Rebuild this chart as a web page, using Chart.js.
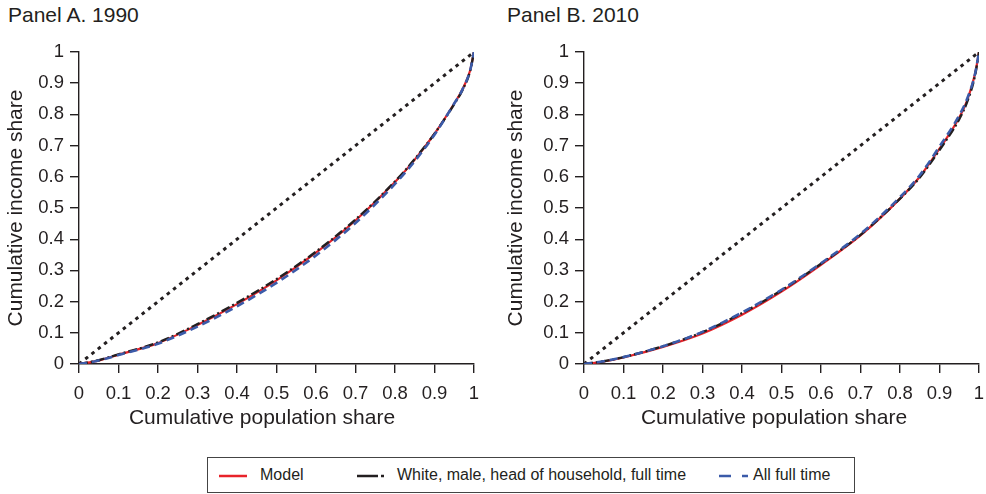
<!DOCTYPE html>
<html lang="en">
<head>
    <meta charset="UTF-8">
    <title>Lorenz curves 1990 and 2010</title>
    <script src="https://cdn.jsdelivr.net/npm/chart.js"></script>
    <style>
        body {
            margin: 0;
            background: #ffffff;
            font-family: "Liberation Sans", Arial, Helvetica, sans-serif;
            color: #231f20;
        }

        .page {
            position: relative;
            width: 986px;
            height: 494px;
            overflow: hidden;
        }

        .panel {
            position: absolute;
            top: 0;
            height: 440px;
        }

        .panel-title {
            position: absolute;
            top: 2px;
            font-size: 21px;
            line-height: 25px;
        }

        .x-title {
            position: absolute;
            top: 404px;
            width: 400px;
            text-align: center;
            font-size: 21px;
            line-height: 26px;
        }

        .legend {
            position: absolute;
            left: 207px;
            top: 457px;
            width: 646px;
            height: 34px;
            border: 1.5px solid #444;
            font-size: 16px;
        }

        .legend svg, .legend span {
            position: absolute;
        }

        .legend span {
            top: 7px;
            line-height: 20px;
        }
    </style>
</head>
<body>
<div class="page">
    <div class="panel-title" style="left: 8px;">Panel A. 1990</div>
    <div class="panel-title" style="left: 507px;">Panel B. 2010</div>

    <div class="panel" style="left: 0; width: 493px;"><canvas id="panelA"></canvas></div>
    <div class="panel" style="left: 500px; width: 486px;"><canvas id="panelB"></canvas></div>

    <div class="x-title" style="left: 62px;">Cumulative population share</div>
    <div class="x-title" style="left: 574px;">Cumulative population share</div>

    <div class="legend">
        <svg style="left: 10px; top: 15px;" width="30" height="6">
            <line x1="1" y1="3" x2="29" y2="3" stroke="#e8232a" stroke-width="2.5"/>
        </svg>
        <span style="left: 52px;">Model</span>
        <svg style="left: 148px; top: 15px;" width="30" height="6">
            <line x1="1" y1="3" x2="22" y2="3" stroke="#231f20" stroke-width="2.5"/>
            <line x1="25" y1="3" x2="28" y2="3" stroke="#231f20" stroke-width="2.5"/>
        </svg>
        <span style="left: 189px;">White, male, head of household, full time</span>
        <svg style="left: 510px; top: 15px;" width="32" height="6">
            <line x1="1" y1="3" x2="13" y2="3" stroke="#3b5ba9" stroke-width="2.5"/>
            <line x1="24" y1="3" x2="30" y2="3" stroke="#3b5ba9" stroke-width="2.5"/>
        </svg>
        <span style="left: 545px;">All full time</span>
    </div>
</div>

<script>
    // cumulative population share (x) shared by all curves
    const popShare = [0, 0.05, 0.1, 0.2, 0.3, 0.4, 0.5, 0.6, 0.7, 0.8, 0.85, 0.9, 0.95, 0.97, 0.99, 1];

    // Panel A. 1990 - cumulative income share
    const model1990 = [0, 0.011, 0.030, 0.067, 0.125, 0.192, 0.268, 0.357, 0.460, 0.583, 0.655, 0.738, 0.835, 0.878, 0.940, 1];
    const white1990 = [0, 0.012, 0.031, 0.069, 0.128, 0.196, 0.272, 0.360, 0.463, 0.585, 0.657, 0.738, 0.833, 0.876, 0.938, 1];
    const allFull1990 = [0, 0.011, 0.029, 0.065, 0.120, 0.185, 0.260, 0.348, 0.452, 0.577, 0.650, 0.735, 0.835, 0.878, 0.940, 1];

    // Panel B. 2010 - cumulative income share
    const model2010 = [0, 0.008, 0.021, 0.055, 0.098, 0.158, 0.232, 0.318, 0.412, 0.530, 0.600, 0.690, 0.790, 0.845, 0.930, 1];
    const white2010 = [0, 0.009, 0.022, 0.057, 0.102, 0.163, 0.236, 0.321, 0.414, 0.530, 0.598, 0.686, 0.785, 0.840, 0.925, 1];
    const allFull2010 = [0, 0.009, 0.022, 0.057, 0.103, 0.165, 0.238, 0.323, 0.417, 0.535, 0.605, 0.697, 0.797, 0.850, 0.930, 1];

    // line of perfect equality
    const equalX = [0, 1];
    const equalY = [0, 1];

    const INK = '#231f20';
    const FONT = '"Liberation Sans", Arial, Helvetica, sans-serif';

    function toPoints(xs, ys) {
        return xs.map((x, i) => ({x: x, y: ys[i]}));
    }

    function fmtTick(value) {
        return String(Number(value.toFixed(1)));
    }

    function makePanel(id, modelY, whiteY, allY, yAxisWidth, padRight) {
        const lineBase = {
            pointRadius: 0,
            fill: false,
            cubicInterpolationMode: 'monotone',
            borderCapStyle: 'butt'
        };

        new Chart(document.getElementById(id).getContext('2d'), {
            type: 'line',
            data: {
                datasets: [
                    Object.assign({}, lineBase, {
                        label: 'All full time',
                        data: toPoints(popShare, allY),
                        borderColor: '#3b5ba9',
                        borderWidth: 2.6,
                        borderDash: [8, 5],
                        order: 1
                    }),
                    Object.assign({}, lineBase, {
                        label: 'White, male, head of household, full time',
                        data: toPoints(popShare, whiteY),
                        borderColor: INK,
                        borderWidth: 2.4,
                        borderDash: [9, 3, 2, 3],
                        order: 2
                    }),
                    Object.assign({}, lineBase, {
                        label: 'Model',
                        data: toPoints(popShare, modelY),
                        borderColor: '#e8232a',
                        borderWidth: 2.2,
                        order: 3
                    }),
                    Object.assign({}, lineBase, {
                        label: 'Equality',
                        data: toPoints(equalX, equalY),
                        borderColor: INK,
                        borderWidth: 3,
                        borderDash: [3.5, 4.5],
                        order: 4
                    })
                ]
            },
            options: {
                responsive: true,
                maintainAspectRatio: false,
                animation: false,
                layout: {
                    padding: {top: 52, right: padRight, bottom: 10, left: 0}
                },
                plugins: {
                    legend: {display: false},
                    tooltip: {enabled: false}
                },
                scales: {
                    x: {
                        type: 'linear',
                        min: 0,
                        max: 1,
                        afterFit: function (scale) {
                            scale.height = 66;
                            // don't let the end labels eat into the plot width
                            scale.paddingLeft = 0;
                            scale.paddingRight = 0;
                        },
                        ticks: {
                            stepSize: 0.1,
                            padding: 10,
                            maxRotation: 0,
                            autoSkip: false,
                            color: INK,
                            font: {family: FONT, size: 18.5},
                            callback: fmtTick
                        },
                        grid: {
                            drawOnChartArea: false,
                            drawTicks: true,
                            tickLength: 9,
                            color: INK,
                            lineWidth: 1.4
                        },
                        border: {display: true, color: INK, width: 1.4}
                    },
                    y: {
                        type: 'linear',
                        min: 0,
                        max: 1,
                        afterFit: function (scale) {
                            scale.width = yAxisWidth;
                        },
                        ticks: {
                            stepSize: 0.1,
                            padding: 6,
                            autoSkip: false,
                            color: INK,
                            font: {family: FONT, size: 18.5},
                            callback: fmtTick
                        },
                        grid: {
                            drawOnChartArea: false,
                            drawTicks: true,
                            tickLength: 9,
                            color: INK,
                            lineWidth: 1.4
                        },
                        border: {display: true, color: INK, width: 1.4},
                        title: {
                            display: true,
                            text: 'Cumulative income share',
                            color: INK,
                            font: {family: FONT, size: 21},
                            padding: {top: 4, bottom: 0}
                        }
                    }
                }
            }
        });
    }

    makePanel('panelA', model1990, white1990, allFull1990, 79, 19);
    makePanel('panelB', model2010, white2010, allFull2010, 84, 7);
</script>
</body>
</html>
